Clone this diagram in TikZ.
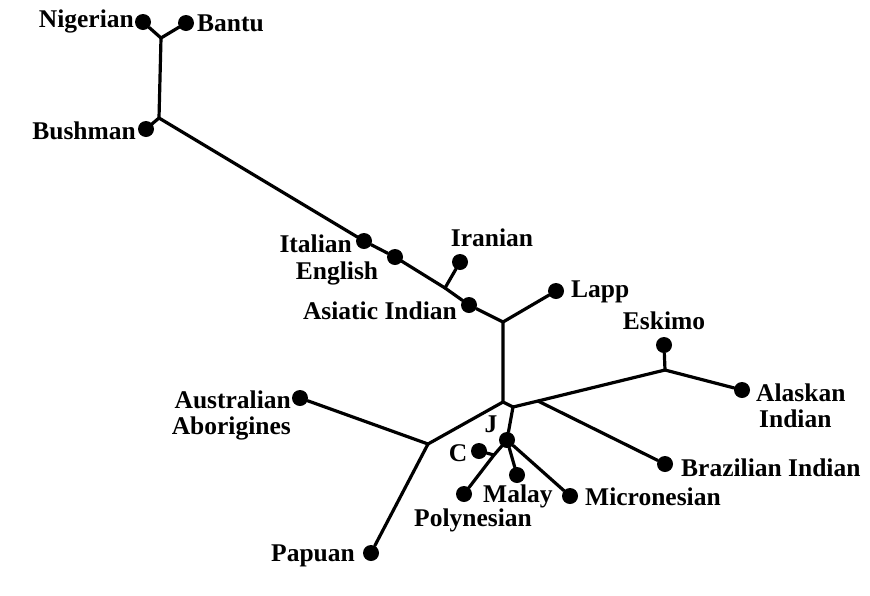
\documentclass[tikz,border=0pt]{standalone}
\usepackage{fontspec}
\setmainfont{Liberation Serif}
\begin{document}
\begin{tikzpicture}[x=1pt,y=-1pt,
  dot/.style={circle,fill=black,inner sep=0pt,minimum size=16pt},
  lbl/.style={font=\fontsize{25.5}{26}\selectfont\bfseries,inner sep=0pt},
  edge/.style={line width=3.2pt,line cap=round,line join=round}]
\useasboundingbox (0,0) rectangle (870,595);
% dots
\node[dot] (nig) at (143,22) {};
\node[dot] (ban) at (186,23) {};
\node[dot] (bus) at (146,129) {};
\node[dot] (ita) at (364,241) {};
\node[dot] (eng) at (395,257) {};
\node[dot] (ira) at (460,262) {};
\node[dot] (asi) at (469,305) {};
\node[dot] (lap) at (556,291) {};
\node[dot] (esk) at (664,345) {};
\node[dot] (ala) at (742,390) {};
\node[dot] (bra) at (665,464) {};
\node[dot] (aus) at (300,398) {};
\node[dot] (pap) at (371,553) {};
\node[dot] (jd) at (507,440) {};
\node[dot] (cd) at (479,451) {};
\node[dot] (mal) at (517,475) {};
\node[dot] (pol) at (464,494) {};
\node[dot] (mic) at (570,496) {};
% junctions
\coordinate (nb) at (161,38);
\coordinate (bj) at (159,118);
\coordinate (ir) at (445,288);
\coordinate (m1) at (503,322);
\coordinate (c0) at (503,402);
\coordinate (c1) at (513,407);
\coordinate (b0) at (538,401);
\coordinate (ej) at (665,370);
\coordinate (a0) at (428,444);
\coordinate (ck) at (494,455);
% edges
\draw[edge] (nig) -- (nb) -- (ban);
\draw[edge] (nb) -- (bj) -- (bus);
\draw[edge] (bj) -- (ita) -- (eng) -- (ir) -- (asi) -- (m1);
\draw[edge] (ir) -- (ira);
\draw[edge] (m1) -- (lap);
\draw[edge] (m1) -- (c0) -- (c1) -- (b0) -- (ej);
\draw[edge] (ej) -- (esk);
\draw[edge] (ej) -- (ala);
\draw[edge] (b0) -- (bra);
\draw[edge] (c0) -- (a0) -- (aus);
\draw[edge] (a0) -- (pap);
\draw[edge] (c1) -- (jd);
\draw[edge] (jd) -- (mic);
\draw[edge] (jd) -- (mal);
\draw[edge] (jd) -- (ck) -- (pol);
\draw[edge] (ck) -- (cd);
% labels
\node[lbl,anchor=east] (tnig) at (134,21) {Nigerian};
\node[lbl,anchor=west] (tban) at (197,23) {Bantu};
\node[lbl,anchor=east] (tbus) at (136,131) {Bushman};
\node[lbl,anchor=east] (tita) at (352,244) {Italian};
\node[lbl] (teng) at (337,273) {English};
\node[lbl] (tira) at (492,238) {Iranian};
\node[lbl,anchor=east] (tasi) at (457,311) {Asiatic Indian};
\node[lbl,anchor=west] (tlap) at (571,292) {Lapp};
\node[lbl] (tesk) at (664,321) {Eskimo};
\node[lbl,anchor=west,align=left] (tala) at (756,406) {Alaskan\\\hspace*{3pt}Indian};
\node[lbl,anchor=west] (tbra) at (681,468) {Brazilian Indian};
\node[lbl,anchor=east,align=right] (taus) at (291,415) {Australian\\Aborigines};
\node[lbl] (tj) at (491,424) {J};
\node[lbl] (tc) at (458,453) {C};
\node[lbl,anchor=west] (tmal) at (483,496) {Malay};
\node[lbl] (tpol) at (473,520) {Polynesian};
\node[lbl,anchor=west] (tmic) at (585,497) {Micronesian};
\node[lbl,anchor=east] (tpap) at (355,556) {Papuan};
\end{tikzpicture}
\end{document}
